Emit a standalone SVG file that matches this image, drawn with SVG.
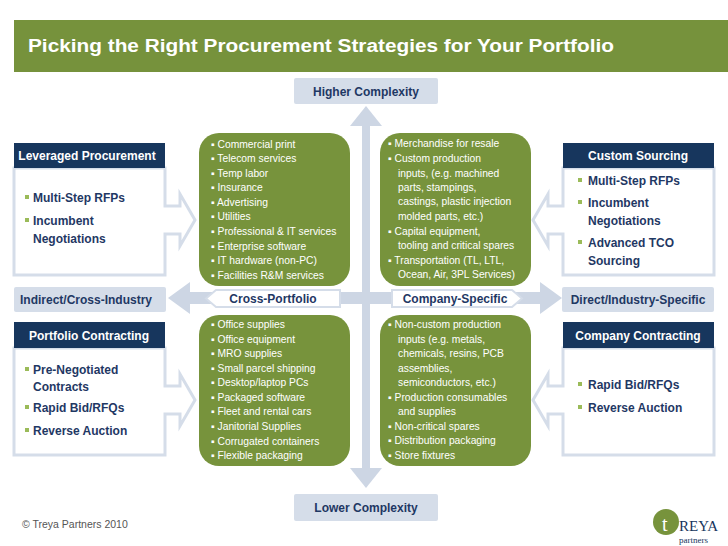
<svg xmlns="http://www.w3.org/2000/svg" width="728" height="546" viewBox="0 0 728 546">
<style>
.lbl{fill:#d5dde9}
.lt{font-family:"Liberation Sans",Arial,sans-serif;font-weight:bold;font-size:12px;fill:#1f3864;text-anchor:middle}
.hd{fill:#17365d}
.ht{font-family:"Liberation Sans",Arial,sans-serif;font-weight:bold;font-size:12px;fill:#fff;text-anchor:middle}
.body{fill:#fff;stroke:#d5dde9;stroke-width:3}
.bt{font-family:"Liberation Sans",Arial,sans-serif;font-weight:bold;font-size:12px;fill:#1f3864}
.sq{fill:#9bbb59}
.gr{fill:#77933c}
.gt{font-family:"Liberation Sans",Arial,sans-serif;font-size:10.3px;fill:#fff}
.ax{fill:#cdd6e4}
</style>
<rect width="728" height="546" fill="#fff"/>
<rect x="14" y="20" width="714" height="52" fill="#76923c"/>
<text x="28" y="52" font-family="Liberation Sans,Arial,sans-serif" font-weight="bold" font-size="18" fill="#fff" textLength="586" lengthAdjust="spacingAndGlyphs">Picking the Right Procurement Strategies for Your Portfolio</text>

<g id="connectors">
<rect class="ax" x="362" y="118" width="8" height="350"/>
<polygon class="ax" points="366,106 382,126 350,126"/>
<polygon class="ax" points="366,488 382,468 350,468"/>
<rect class="ax" x="185" y="292" width="360" height="12"/>
<polygon class="ax" points="168,298 190,282 190,314"/>
<polygon class="ax" points="562,298 540,282 540,314"/>
</g>

<g id="higher"><rect class="lbl" x="294" y="78" width="144" height="26" rx="2"/><text class="lt" x="366" y="96">Higher Complexity</text></g>
<g id="lower"><rect class="lbl" x="294" y="494" width="144" height="27" rx="2"/><text class="lt" x="366" y="512">Lower Complexity</text></g>

<g id="crossportfolio"><polygon points="216,290 340,290 340,307 216,307 206,298.5" fill="#fff" stroke="#d5dde9" stroke-width="2"/><text class="lt" x="273" y="303">Cross-Portfolio</text></g>
<g id="companyspecific"><polygon points="392,290 512,290 522,298.5 512,307 392,307" fill="#fff" stroke="#d5dde9" stroke-width="2"/><text class="lt" x="455" y="303">Company-Specific</text></g>

<g id="indirect"><rect class="lbl" x="14" y="287" width="152" height="25" rx="2"/><text class="lt" x="86" y="304">Indirect/Cross-Industry</text></g>
<g id="direct"><rect class="lbl" x="562" y="287" width="152" height="25" rx="2"/><text class="lt" x="638" y="304">Direct/Industry-Specific</text></g>

<g id="leveraged">
<path class="body" d="M14,168 H165 V206 H180 V194 L195,220 L180,246 V234 H165 V275 H14 Z"/>
<rect class="hd" x="14" y="143" width="151" height="25"/>
<text class="ht" x="87" y="160">Leveraged Procurement</text>
<rect class="sq" x="25" y="195" width="4" height="4"/><text class="bt" x="33" y="202">Multi-Step RFPs</text>
<rect class="sq" x="25" y="218" width="4" height="4"/><text class="bt" x="33" y="225">Incumbent</text><text class="bt" x="33" y="243">Negotiations</text>
</g>

<g id="portfolio">
<path class="body" d="M14,348 H165 V386 H180 V374 L195,400 L180,426 V414 H165 V455 H14 Z"/>
<rect class="hd" x="14" y="322" width="151" height="26"/>
<text class="ht" x="89" y="340">Portfolio Contracting</text>
<rect class="sq" x="25" y="367" width="4" height="4"/><text class="bt" x="33" y="374">Pre-Negotiated</text><text class="bt" x="33" y="391">Contracts</text>
<rect class="sq" x="25" y="405" width="4" height="4"/><text class="bt" x="33" y="412">Rapid Bid/RFQs</text>
<rect class="sq" x="25" y="428" width="4" height="4"/><text class="bt" x="33" y="435">Reverse Auction</text>
</g>

<g id="custom">
<path class="body" d="M714,168 H563 V206 H548 V194 L533,220 L548,246 V234 H563 V275 H714 Z"/>
<rect class="hd" x="563" y="143" width="151" height="25"/>
<text class="ht" x="638" y="160">Custom Sourcing</text>
<rect class="sq" x="578" y="178" width="4" height="4"/><text class="bt" x="588" y="185">Multi-Step RFPs</text>
<rect class="sq" x="578" y="200" width="4" height="4"/><text class="bt" x="588" y="207">Incumbent</text><text class="bt" x="588" y="225">Negotiations</text>
<rect class="sq" x="578" y="240" width="4" height="4"/><text class="bt" x="588" y="247">Advanced TCO</text><text class="bt" x="588" y="265">Sourcing</text>
</g>

<g id="companycontracting">
<path class="body" d="M714,348 H563 V386 H548 V374 L533,400 L548,426 V414 H563 V455 H714 Z"/>
<rect class="hd" x="563" y="322" width="151" height="26"/>
<text class="ht" x="638" y="340">Company Contracting</text>
<rect class="sq" x="578" y="382" width="4" height="4"/><text class="bt" x="588" y="389">Rapid Bid/RFQs</text>
<rect class="sq" x="578" y="405" width="4" height="4"/><text class="bt" x="588" y="412">Reverse Auction</text>
</g>

<g id="q1">
<rect class="gr" x="199" y="133" width="151" height="153" rx="20"/>
<g class="gt">
<text x="211" y="148">▪ Commercial print</text>
<text x="211" y="162">▪ Telecom services</text>
<text x="211" y="177">▪ Temp labor</text>
<text x="211" y="191">▪ Insurance</text>
<text x="211" y="206">▪ Advertising</text>
<text x="211" y="220">▪ Utilities</text>
<text x="211" y="235">▪ Professional &amp; IT services</text>
<text x="211" y="250">▪ Enterprise software</text>
<text x="211" y="264">▪ IT hardware (non-PC)</text>
<text x="211" y="279">▪ Facilities R&amp;M services</text>
</g>
</g>

<g id="q2">
<rect class="gr" x="380" y="133" width="151" height="153" rx="20"/>
<g class="gt">
<text x="388" y="147">▪ Merchandise for resale</text>
<text x="388" y="162">▪ Custom production</text>
<text x="398" y="177">inputs, (e.g. machined</text>
<text x="398" y="191">parts, stampings,</text>
<text x="398" y="205">castings, plastic injection</text>
<text x="398" y="220">molded parts, etc.)</text>
<text x="388" y="235">▪ Capital equipment,</text>
<text x="398" y="249">tooling and critical spares</text>
<text x="388" y="264">▪ Transportation (TL, LTL,</text>
<text x="398" y="278">Ocean, Air, 3PL Services)</text>
</g>
</g>

<g id="q3">
<rect class="gr" x="199" y="315" width="151" height="151" rx="20"/>
<g class="gt">
<text x="211" y="328">▪ Office supplies</text>
<text x="211" y="343">▪ Office equipment</text>
<text x="211" y="357">▪ MRO supplies</text>
<text x="211" y="372">▪ Small parcel  shipping</text>
<text x="211" y="386">▪ Desktop/laptop PCs</text>
<text x="211" y="401">▪ Packaged software</text>
<text x="211" y="415">▪ Fleet and rental cars</text>
<text x="211" y="430">▪ Janitorial Supplies</text>
<text x="211" y="445">▪ Corrugated containers</text>
<text x="211" y="459">▪ Flexible packaging</text>
</g>
</g>

<g id="q4">
<rect class="gr" x="380" y="315" width="151" height="151" rx="20"/>
<g class="gt">
<text x="388" y="328">▪ Non-custom production</text>
<text x="398" y="343">inputs (e.g. metals,</text>
<text x="398" y="357">chemicals, resins, PCB</text>
<text x="398" y="372">assemblies,</text>
<text x="398" y="386">semiconductors, etc.)</text>
<text x="388" y="401">▪ Production consumables</text>
<text x="398" y="415">and supplies</text>
<text x="388" y="430">▪ Non-critical spares</text>
<text x="388" y="444">▪ Distribution packaging</text>
<text x="388" y="459">▪ Store fixtures</text>
</g>
</g>

<text x="22" y="528" font-family="Liberation Sans,Arial,sans-serif" font-size="10.5" fill="#555">©  Treya Partners 2010</text>
<g id="logo">
<circle cx="666" cy="522" r="13" fill="#77933c"/>
<text x="662" y="531" font-family="Liberation Serif,serif" font-size="20" fill="#fff">t</text>
<text x="679" y="531" font-family="Liberation Serif,serif" font-size="15" fill="#17365d">REYA</text>
<text x="679" y="543" font-family="Liberation Serif,serif" font-size="9" fill="#17365d">partners</text>
</g>
</svg>
